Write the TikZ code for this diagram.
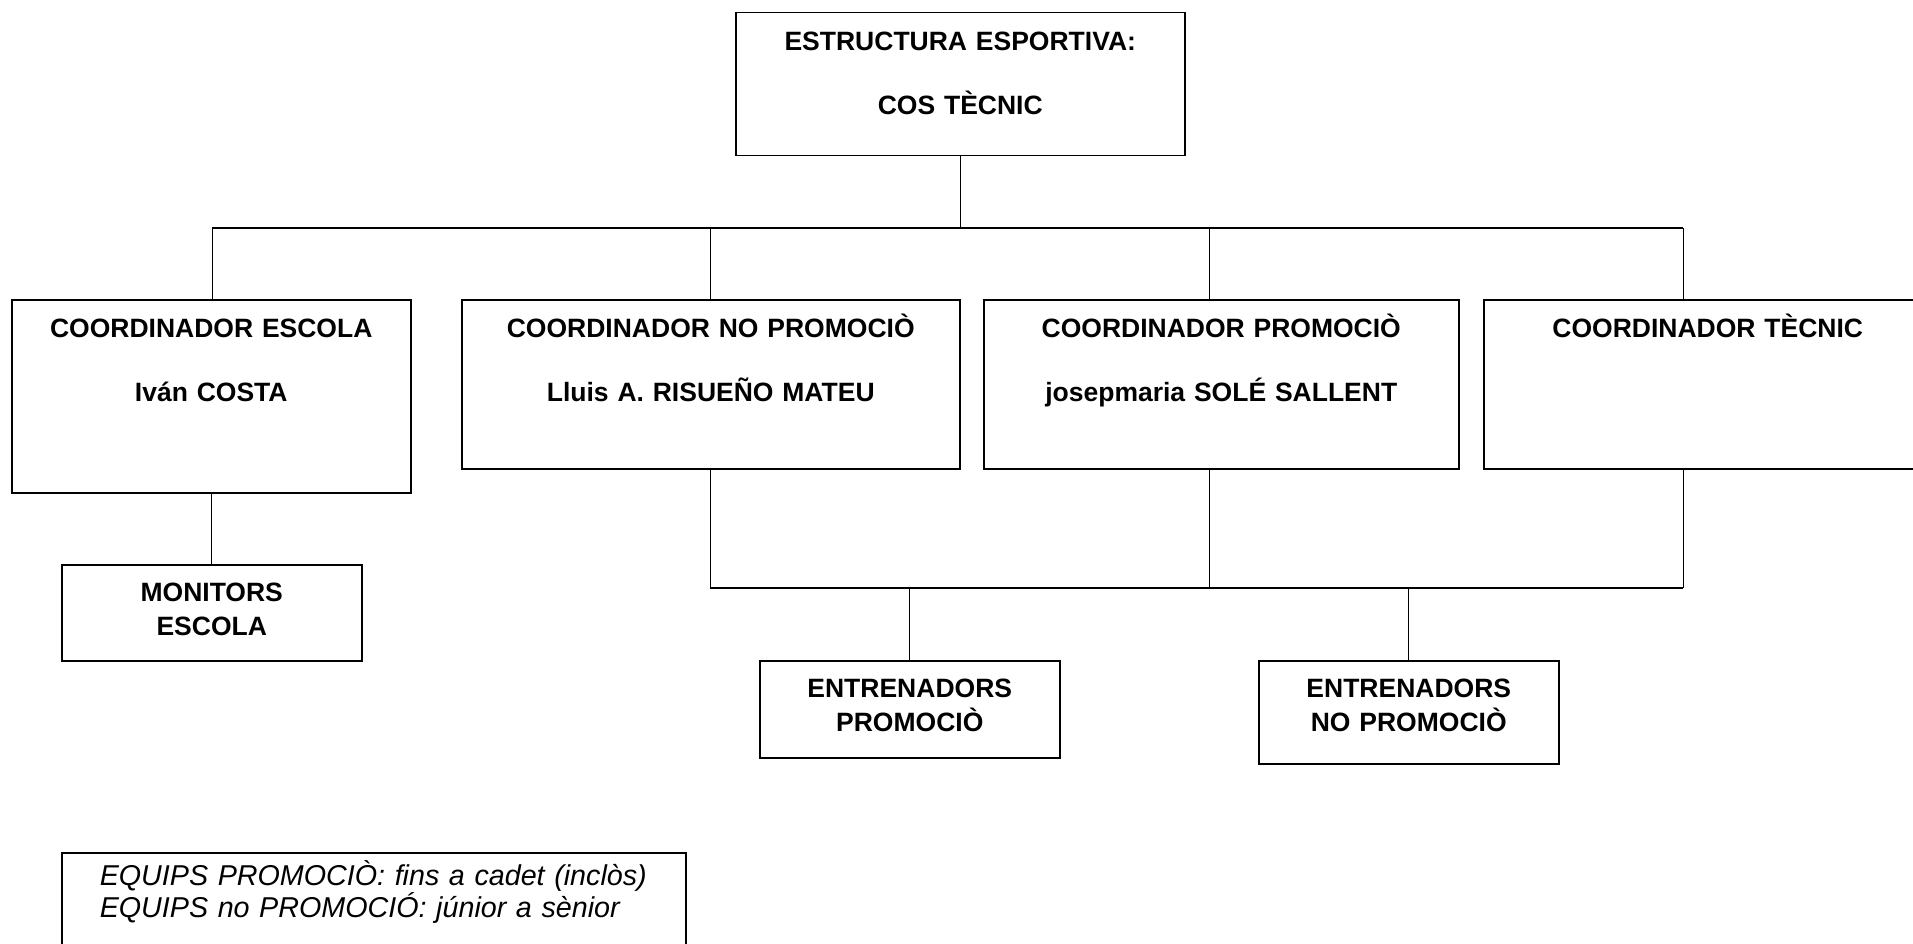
\documentclass[tikz,border=0pt]{standalone}
\usepackage{fontspec}
\setmainfont{Liberation Sans}
\usepackage{tikz}

\begin{document}
\begin{tikzpicture}[x=1pt,y=-1pt,
    box/.style={draw,line width=1.5pt,inner sep=0pt,anchor=north west,align=center,
        font=\fontsize{26.5}{64}\selectfont\bfseries,text height=38pt},
    smallbox/.style={box,font=\fontsize{26.5}{33.5}\selectfont\bfseries,text height=37pt},
    link/.style={line width=1pt},
    bus/.style={line width=1.5pt}]
    \useasboundingbox (0,0) rectangle (1913,944);
    \clip (0,0) rectangle (1913,944);
    % top
    \node[box,text width=449pt,text depth=105pt] (cos) at (735,12) {ESTRUCTURA ESPORTIVA:\\COS TÈCNIC};
    % coordinators
    \node[box,text width=399pt,text depth=155pt] (esc) at (11,299) {COORDINADOR ESCOLA\\Iván COSTA};
    \node[box,text width=498pt,text depth=131pt] (noprom) at (461,299) {COORDINADOR NO PROMOCIÒ\\Lluis A. RISUEÑO MATEU};
    \node[box,text width=475pt,text depth=131pt] (prom) at (983,299) {COORDINADOR PROMOCIÒ\\josepmaria SOLÉ SALLENT};
    \node[box,text width=448pt,text depth=131pt] (tec) at (1483,299) {COORDINADOR TÈCNIC};
    % teams
    \node[smallbox,text width=300pt,text depth=59pt] (mon) at (61,564) {MONITORS\\ESCOLA};
    \node[smallbox,text width=300pt,text depth=60pt] (entprom) at (759,660) {ENTRENADORS\\PROMOCIÒ};
    \node[smallbox,text width=300pt,text depth=66pt] (entnoprom) at (1258,660) {ENTRENADORS\\NO PROMOCIÒ};
    % legend
    \node[draw,line width=1.5pt,anchor=north west,align=left,inner xsep=38pt,inner ysep=0pt,
        text width=548pt,text height=33pt,text depth=77pt,
        font=\fontsize{28.7}{29}\selectfont\itshape] (legend) at (61,852)
        {EQUIPS PROMOCIÒ: fins a cadet (inclòs)\\EQUIPS no PROMOCIÓ: júnior a sènior};

    % upper bus
    \coordinate (b1) at (212,228);
    \coordinate (b2) at (710,228);
    \coordinate (b3) at (1209,228);
    \coordinate (b4) at (1683,228);
    \draw[link] (cos.south) -- (cos.south |- b1);
    \draw[bus] (b1) -- (b4);
    \draw[link] (b1) -- (b1 |- esc.north);
    \draw[link] (b2) -- (b2 |- noprom.north);
    \draw[link] (b3) -- (b3 |- prom.north);
    \draw[link] (b4) -- (b4 |- tec.north);
    \draw[link] (mon.north |- esc.south) -- (mon.north);

    % lower bus
    \coordinate (l2) at (710,588);
    \coordinate (l3) at (1209,588);
    \coordinate (l4) at (1683,588);
    \draw[link] (l2 |- noprom.south) -- (l2);
    \draw[link] (l3 |- prom.south) -- (l3);
    \draw[link] (l4 |- tec.south) -- (l4);
    \draw[bus] (l2) -- (l4);
    \draw[link] (entprom.north |- l2) -- (entprom.north);
    \draw[link] (entnoprom.north |- l2) -- (entnoprom.north);
\end{tikzpicture}
\end{document}
